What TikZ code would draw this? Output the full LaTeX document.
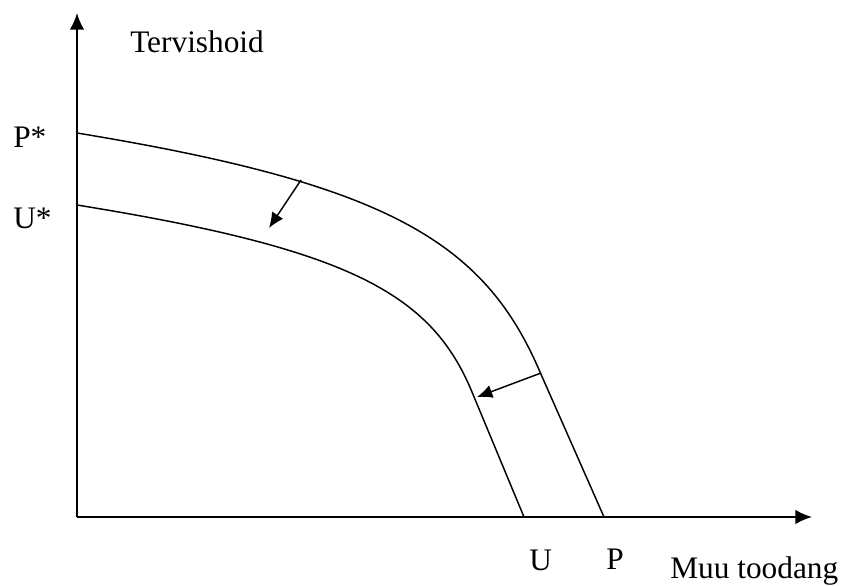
\documentclass[tikz,border=0pt]{standalone}
\usepackage{fontspec}
\setmainfont{Liberation Serif}
\usetikzlibrary{arrows.meta}
\begin{document}
\begin{tikzpicture}[x=0.75pt,y=-0.75pt,
  axis/.style={line width=1.5pt,-{Latex[length=12.5pt,width=11pt]}},
  curve/.style={line width=1.1pt},
  shift arrow/.style={line width=1.1pt,-{Latex[length=11.5pt,width=10pt]}},
  lbl/.style={font=\fontsize{23.5}{28}\selectfont,inner sep=0pt,anchor=base west}]
\useasboundingbox (0,0) rectangle (844,586);
\coordinate (O) at (77,517);
\coordinate (ytip) at (77,13);
\coordinate (xtip) at (812,517);
\draw[axis] (O) -- (ytip);
\draw[axis] (O) -- (xtip);
\draw[curve] (77,133) .. controls (387,184) and (484,241) .. (540,372) -- (604,517);
\draw[curve] (77,205) .. controls (349,249) and (431,293) .. (472,392) -- (524,517);
\coordinate (a1s) at (301,180);
\coordinate (a1e) at (269,228);
\coordinate (a2s) at (541,373);
\coordinate (a2e) at (477,397);
\draw[shift arrow] (a1s) -- (a1e);
\draw[shift arrow] (a2s) -- (a2e);
\node[lbl] (ty) at (130,52) {Tervishoid};
\node[lbl] (ps) at (13,147) {P*};
\node[lbl] (us) at (13,228) {U*};
\node[lbl] (u) at (529,570) {U};
\node[lbl] (p) at (606,569) {P};
\node[lbl] (mx) at (670,578) {Muu toodang};
\end{tikzpicture}
\end{document}
